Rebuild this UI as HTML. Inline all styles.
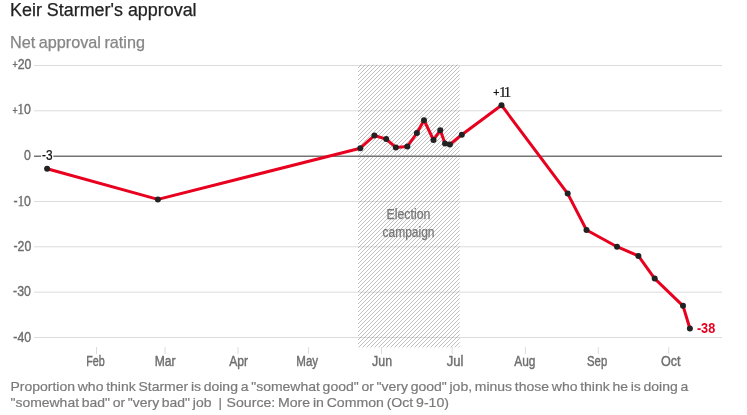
<!DOCTYPE html>
<html><head><meta charset="utf-8">
<style>
html,body{margin:0;padding:0;background:#fff;}
body{width:747px;height:415px;overflow:hidden;font-family:"Liberation Sans",sans-serif;}
svg{display:block;will-change:transform;}
text{font-family:"Liberation Sans",sans-serif;}
.ax{font-size:14px;fill:#6e6e6e;stroke:#6e6e6e;stroke-width:0.4px;}
.pl{font-size:10px;}
.sf{font-family:"Liberation Serif",serif;font-size:14.5px;}
.ft{font-size:13.4px;fill:#7a7a7a;word-spacing:-1.1px;stroke:#7a7a7a;stroke-width:0.2px;}
</style></head><body>
<svg width="747" height="415" viewBox="0 0 747 415">
<defs>
<pattern id="h" width="4" height="4" patternUnits="userSpaceOnUse" patternTransform="translate(-2,0)">
<path d="M-1,1 L1,-1 M0,4 L4,0 M3,5 L5,3" stroke="#8c8c8c" stroke-width="0.55" fill="none"/>
</pattern>
</defs>
<rect width="747" height="415" fill="#fff"/>
<!-- title -->
<text x="10" y="15.8" font-size="17.6" fill="#222" stroke="#222" stroke-width="0.25" textLength="186.6" lengthAdjust="spacingAndGlyphs">Keir Starmer's approval</text>
<text x="10" y="47.8" font-size="16.2" fill="#868686" stroke="#868686" stroke-width="0.25" word-spacing="-1" textLength="135" lengthAdjust="spacingAndGlyphs">Net approval rating</text>
<!-- gridlines -->
<g stroke="#dcdcdc" stroke-width="1" shape-rendering="auto">
<line x1="34" x2="722" y1="65.5" y2="65.5"/>
<line x1="34" x2="722" y1="110.83" y2="110.83"/>
<line x1="34" x2="722" y1="201.5" y2="201.5"/>
<line x1="34" x2="722" y1="246.83" y2="246.83"/>
<line x1="34" x2="722" y1="292.17" y2="292.17"/>
<line x1="34" x2="722" y1="337.5" y2="337.5"/>
</g>
<rect x="358" y="64.6" width="101.7" height="282.8" fill="url(#h)"/>
<line x1="34" x2="722" y1="156.25" y2="156.25" stroke="#747474" stroke-width="1.5"/>
<!-- ticks -->
<g stroke="#dcdcdc" stroke-width="1">
<line x1="96.5" x2="96.5" y1="347" y2="354"/>
<line x1="165" x2="165" y1="347" y2="354"/>
<line x1="238" x2="238" y1="347" y2="354"/>
<line x1="308.6" x2="308.6" y1="347" y2="354"/>
<line x1="381.5" x2="381.5" y1="347" y2="354"/>
<line x1="452.2" x2="452.2" y1="347" y2="354"/>
<line x1="525.4" x2="525.4" y1="347" y2="354"/>
<line x1="598.3" x2="598.3" y1="347" y2="354"/>
<line x1="668.7" x2="668.7" y1="347" y2="354"/>
</g>
<!-- y labels -->
<g class="ax" text-anchor="end">
<text transform="translate(31.4,69.0) scale(0.88,1)"><tspan class="pl" dy="-1.5">+</tspan><tspan dy="1.5">20</tspan></text>
<text transform="translate(30.8,115.7) scale(0.88,1)"><tspan class="pl" dy="-1.5">+</tspan><tspan dy="1.5"></tspan><tspan class="sf">1</tspan>0</text>
<text transform="translate(30.9,159.9) scale(0.88,1)">0</text>
<text transform="translate(30.9,205.7) scale(0.88,1)">-<tspan class="sf">1</tspan>0</text>
<text transform="translate(31.3,250.7) scale(0.88,1)">-20</text>
<text transform="translate(30.9,295.9) scale(0.88,1)">-30</text>
<text transform="translate(31.1,341.7) scale(0.88,1)">-40</text>
</g>
<!-- x labels -->
<g class="ax">
<text x="86.2" y="365.9" textLength="18.5" lengthAdjust="spacingAndGlyphs">Feb</text>
<text x="154.7" y="365.9" textLength="20.9" lengthAdjust="spacingAndGlyphs">Mar</text>
<text x="229.2" y="365.9" textLength="18.9" lengthAdjust="spacingAndGlyphs">Apr</text>
<text x="296.3" y="365.9" textLength="21.8" lengthAdjust="spacingAndGlyphs">May</text>
<text x="372.1" y="365.9" textLength="19.9" lengthAdjust="spacingAndGlyphs">Jun</text>
<text x="446.7" y="365.9" textLength="16.7" lengthAdjust="spacingAndGlyphs">Jul</text>
<text x="514.2" y="365.9" textLength="21.2" lengthAdjust="spacingAndGlyphs">Aug</text>
<text x="587.0" y="365.9" textLength="20.2" lengthAdjust="spacingAndGlyphs">Sep</text>
<text x="660.9" y="365.9" textLength="19.6" lengthAdjust="spacingAndGlyphs">Oct</text>
</g>
<!-- annotation -->
<g class="ax" text-anchor="middle" style="fill:#767676;stroke:#767676;stroke-width:0.25px">
<text x="408.5" y="219" textLength="44" lengthAdjust="spacingAndGlyphs">Election</text>
<text x="408.5" y="237.4" textLength="52" lengthAdjust="spacingAndGlyphs">campaign</text>
</g>
<!-- line -->
<polyline fill="none" stroke="#e8001f" stroke-width="3" stroke-linejoin="round" stroke-linecap="round"
points="47.1,168.7 157.9,199.4 360.3,148.2 374.4,135.5 386.2,139.1 395.8,147.4 407.3,146.6 416.9,133 424,120.2 433.5,140 440.3,130.2 445,143.6 449.9,144.5 461.8,134.7 501.5,105.2 567.7,193.6 586.5,230 617,246.7 638.4,255.9 654.7,278.6 683,305.8 689.9,328.5"/>
<g fill="#222">
<circle cx="47.1" cy="168.7" r="3"/><circle cx="157.9" cy="199.4" r="3"/><circle cx="360.3" cy="148.2" r="3"/>
<circle cx="374.4" cy="135.5" r="3"/><circle cx="386.2" cy="139.1" r="3"/><circle cx="395.8" cy="147.4" r="3"/>
<circle cx="407.3" cy="146.6" r="3"/><circle cx="416.9" cy="133" r="3"/><circle cx="424" cy="120.2" r="3"/>
<circle cx="433.5" cy="140" r="3"/><circle cx="440.3" cy="130.2" r="3"/><circle cx="445" cy="143.6" r="3"/>
<circle cx="449.9" cy="144.5" r="3"/><circle cx="461.8" cy="134.7" r="3"/><circle cx="501.5" cy="105.2" r="3"/>
<circle cx="567.7" cy="193.6" r="3"/><circle cx="586.5" cy="230" r="3"/><circle cx="617" cy="246.7" r="3"/>
<circle cx="638.4" cy="255.9" r="3"/><circle cx="654.7" cy="278.6" r="3"/><circle cx="683" cy="305.8" r="3"/>
<circle cx="689.9" cy="328.5" r="3"/>
</g>
<!-- data labels -->
<text transform="translate(42,160.1) scale(0.79,1)" font-size="15" fill="#fff" stroke="#fff" stroke-width="3.5" stroke-linejoin="round">-3</text>
<text transform="translate(42,160.1) scale(0.79,1)" font-size="15" fill="#111" stroke="#111" stroke-width="0.25">-3</text>
<text x="493.2" y="95.9" font-size="10.5" fill="#111" stroke="#111" stroke-width="0.3">+</text>
<text x="498.9" y="97.2" font-size="15" fill="#111" stroke="#111" stroke-width="0.2" letter-spacing="-2" style="font-family:'Liberation Serif',serif">11</text>
<text x="696.9" y="332.9" font-size="14" font-weight="bold" fill="#e8001f" textLength="18.3" lengthAdjust="spacingAndGlyphs">-38</text>
<!-- footer -->
<text class="ft" x="10.5" y="391.4" textLength="677.8" lengthAdjust="spacingAndGlyphs">Proportion who think Starmer is doing a "somewhat good" or "very good" job, minus those who think he is doing a</text>
<text class="ft" x="10.5" y="407.3" textLength="200.9" lengthAdjust="spacingAndGlyphs">"somewhat bad" or "very bad" job</text>
<text class="ft" x="218.6" y="407.3">|</text>
<text class="ft" x="226.6" y="407.3" textLength="222.4" lengthAdjust="spacingAndGlyphs">Source: More in Common (Oct 9-10)</text>
</svg>
</body></html>
